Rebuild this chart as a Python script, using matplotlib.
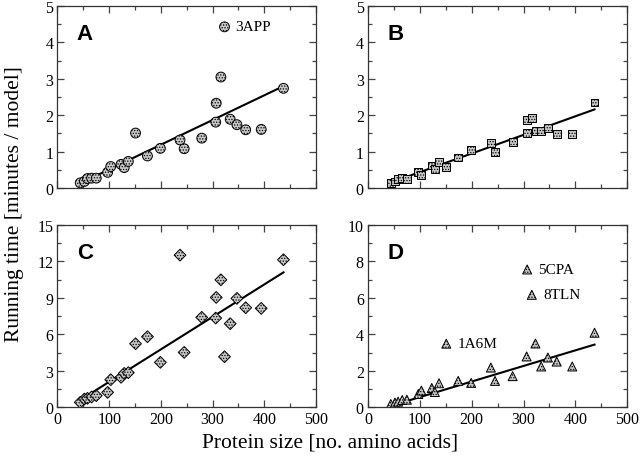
"""Running time vs. protein size, four panels (A-D)."""

import matplotlib

matplotlib.use("Agg")
import matplotlib.pyplot as plt
from matplotlib.ticker import MultipleLocator

# Protein sizes shared by all four panels
protein_size = [44, 52, 58, 66, 75, 97, 103, 123, 129, 137, 151, 174, 199,
                237, 245, 279, 306, 307, 316, 323, 334, 347, 364, 394, 437]

time_a = [0.14, 0.18, 0.26, 0.27, 0.27, 0.43, 0.59, 0.65, 0.56, 0.73, 1.51,
          0.88, 1.09, 1.32, 1.08, 1.37, 1.81, 2.33, 3.05, 4.43, 1.89, 1.74,
          1.60, 1.61, 2.74]
time_b = [0.14, 0.18, 0.25, 0.27, 0.25, 0.44, 0.35, 0.62, 0.53, 0.71, 0.57,
          0.84, 1.05, 1.24, 1.00, 1.27, 1.51, 1.87, 1.93, 1.56, 1.56, 1.64,
          1.48, 1.48, 2.35]
time_c = [0.41, 0.68, 0.74, 0.85, 0.96, 1.23, 2.27, 2.47, 2.79, 2.85, 5.23,
          5.81, 3.70, 12.52, 4.52, 7.40, 7.34, 9.04, 10.49, 4.16, 6.88, 8.96,
          8.19, 8.14, 12.14]
time_d = [0.18, 0.26, 0.31, 0.40, 0.42, 0.73, 0.92, 1.06, 0.84, 1.32, 3.49,
          1.45, 1.34, 2.18, 1.45, 1.71, 2.79, 7.56, 6.17, 3.50, 2.24, 2.73,
          2.51, 2.24, 4.09]

# Fitted lines (end points)
fit_x = [44, 437]
fit_a = [0.13, 2.80]
fit_b = [0.15, 2.16]
fit_c = [0.60, 11.10]
fit_d = [0.08, 3.44]

# Labelled outliers: (index into protein_size, name)
labels_a = [(19, "3APP")]
labels_d = [(17, "5CPA"), (18, "8TLN"), (10, "1A6M")]

panels = [
    ("A", time_a, fit_a, "o", 50, 5, 1, labels_a),
    ("B", time_b, fit_b, "s", 32, 5, 1, []),
    ("C", time_c, fit_c, "D", 36, 15, 3, []),
    ("D", time_d, fit_d, "^", 42, 10, 2, labels_d),
]

plt.rcParams["font.family"] = ["Liberation Serif", "DejaVu Serif"]
plt.rcParams["hatch.linewidth"] = 0.6
plt.rcParams["hatch.color"] = "#6a6a6a"

fig = plt.figure(figsize=(6.4, 4.64), dpi=100)
positions = [
    [0.0898, 0.5927, 0.404, 0.392],
    [0.575, 0.5927, 0.405, 0.392],
    [0.0898, 0.120, 0.404, 0.393],
    [0.575, 0.120, 0.405, 0.393],
]

for (letter, times, fit, marker, size, ymax, ystep, labels), pos in zip(panels, positions):
    ax = fig.add_axes(pos)
    ax.plot(fit_x, fit, color="black", lw=1.5, zorder=2)
    ax.scatter(protein_size, times, s=size, marker=marker, facecolor="#c8c8c8",
               edgecolor="black", linewidths=0.7, hatch="......", zorder=3)
    for idx, name in labels:
        ax.annotate(name, (protein_size[idx], times[idx]), xytext=(8, 0),
                    textcoords="offset points", va="center", ha="left",
                    fontsize=11)

    ax.set_xlim(0, 500)
    ax.set_ylim(0, ymax)
    ax.xaxis.set_major_locator(MultipleLocator(100))
    ax.xaxis.set_minor_locator(MultipleLocator(50))
    ax.yaxis.set_major_locator(MultipleLocator(ystep))
    ax.yaxis.set_minor_locator(MultipleLocator(ystep / 2))
    ax.tick_params(which="both", direction="in", top=True, right=True,
                   color="#444444", labelsize=11.5, pad=3)
    ax.tick_params(which="major", length=5, width=0.9)
    ax.tick_params(which="minor", length=3, width=0.9)
    for spine in ax.spines.values():
        spine.set_linewidth(0.9)
        spine.set_color("#333333")
    if letter in ("A", "B"):
        ax.set_xticklabels([])

    ax.text(0.075, 0.82, letter, transform=ax.transAxes, fontsize=16,
            fontweight="bold", family="Liberation Sans", va="baseline")

fig.text(0.022, 0.56, "Running time [minutes / model]", rotation=90,
         ha="center", va="center", fontsize=15.5)
fig.text(0.516, 0.045, "Protein size [no. amino acids]", ha="center",
         va="center", fontsize=15.5)

fig.savefig("out.png", dpi=100)
